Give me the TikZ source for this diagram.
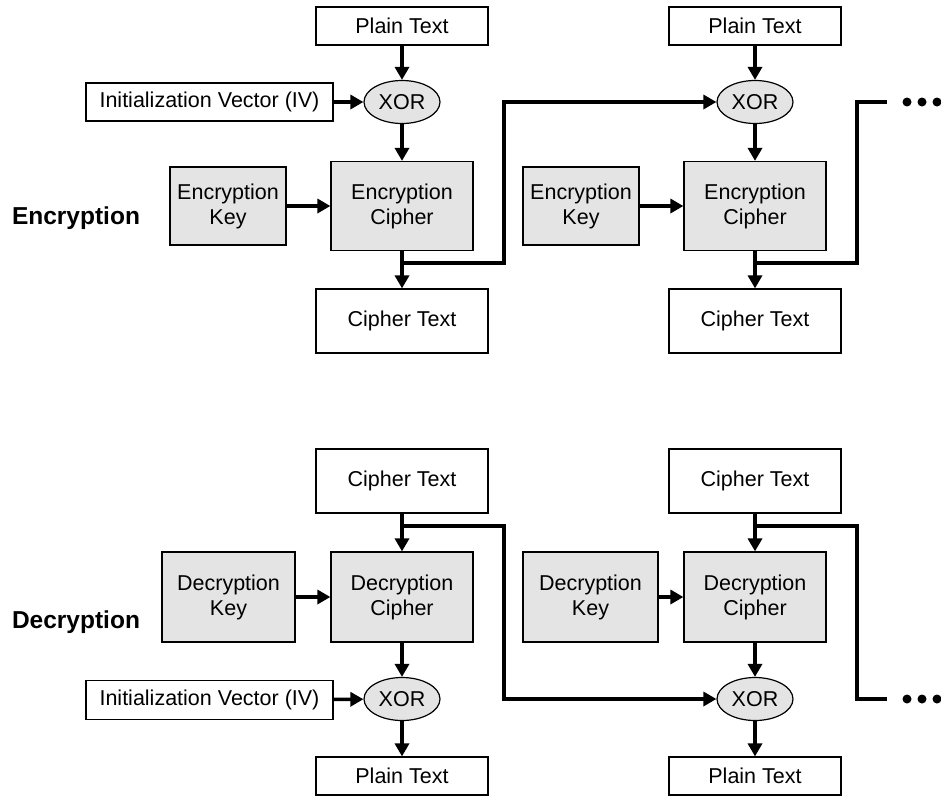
\documentclass[tikz,border=0pt]{standalone}
\usepackage{fontspec}
\setmainfont{Liberation Sans}
\usetikzlibrary{arrows.meta,shapes.geometric}
\definecolor{boxgrey}{RGB}{228,228,228}
\begin{document}
\begin{tikzpicture}[x=1pt,y=-1pt,
  box/.style={draw,line width=1.2pt,fill=white,align=center,inner sep=0pt,
    font=\fontsize{21.5}{25}\selectfont},
  greybox/.style={box,fill=boxgrey},
  xorop/.style={box,ellipse,fill=boxgrey,minimum width=76pt,minimum height=43pt},
  wire/.style={line width=3.5pt},
  conn/.style={wire,-{Triangle[length=13pt,width=14pt]}},
  side/.style={font=\fontsize{24.5}{28}\selectfont\bfseries}]
  \useasboundingbox (0,0) rectangle (941,796);

  % encryption
  \node[side] (enc) at (76,218) {Encryption};
  \foreach \c/\x/\kx in {A/402/228,B/755/581} {
    \node[box,minimum width=172pt,minimum height=38pt] (pt\c) at (\x,26) {Plain Text};
    \node[xorop] (xor\c) at (\x,102) {XOR};
    \node[greybox,minimum width=142pt,minimum height=89pt] (ec\c) at (\x,206) {Encryption\\Cipher};
    \node[greybox,minimum width=116pt,minimum height=78pt] (ek\c) at (\kx,206) {Encryption\\Key};
    \node[box,minimum width=172pt,minimum height=64pt] (ct\c) at (\x,321) {Cipher Text};
    \coordinate (br\c) at (\x,263);
    \draw[conn] (pt\c) -- (xor\c);
    \draw[conn] (xor\c) -- (ec\c);
    \draw[conn] (ek\c) -- (ec\c);
    \draw[conn] (ec\c) -- (ct\c);
  }
  \node[box,minimum width=247pt,minimum height=38pt] (ivA) at (209.5,102) {Initialization Vector (IV)};
  \draw[conn] (ivA) -- (xorA);
  \coordinate (upA) at (504,263);
  \coordinate (upB) at (857,263);
  \coordinate (endB) at (887,102);
  \draw[conn] (brA) -- (upA) |- (xorB.west);
  \draw[wire] (brB) -- (upB) |- (endB);
  \foreach \d in {907,922,937} \fill (\d,102) circle (4.5pt);

  % decryption
  \node[side] (dec) at (76,622) {Decryption};
  \foreach \c/\x/\kx/\kw in {C/402/228.5/133,D/755/590.5/135} {
    \node[box,minimum width=172pt,minimum height=64pt] (ct\c) at (\x,481) {Cipher Text};
    \node[greybox,minimum width=142pt,minimum height=90pt] (dc\c) at (\x,597) {Decryption\\Cipher};
    \node[greybox,minimum width=\kw pt,minimum height=90pt] (dk\c) at (\kx,597) {Decryption\\Key};
    \node[xorop] (xor\c) at (\x,699) {XOR};
    \node[box,minimum width=172pt,minimum height=38pt] (pt\c) at (\x,776) {Plain Text};
    \coordinate (br\c) at (\x,526);
    \draw[conn] (ct\c) -- (dc\c);
    \draw[conn] (dk\c) -- (dc\c);
    \draw[conn] (dc\c) -- (xor\c);
    \draw[conn] (xor\c) -- (pt\c);
  }
  \node[box,minimum width=247pt,minimum height=39pt] (ivC) at (209.5,700) {Initialization Vector (IV)};
  \draw[conn] (ivC) -- (xorC);
  \coordinate (dnC) at (504,526);
  \coordinate (dnD) at (857,526);
  \coordinate (endD) at (887,699);
  \draw[conn] (brC) -- (dnC) |- (xorD.west);
  \draw[wire] (brD) -- (dnD) |- (endD);
  \foreach \d in {907,922,937} \fill (\d,699) circle (4.5pt);
\end{tikzpicture}
\end{document}
